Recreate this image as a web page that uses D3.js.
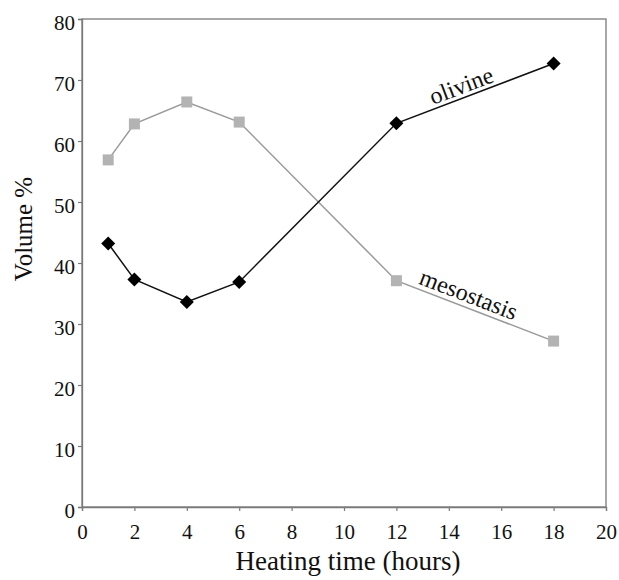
<!DOCTYPE html>
<html>
<head>
<meta charset="utf-8">
<script src="https://cdn.jsdelivr.net/npm/d3@7"></script>
<style>
  body { margin: 0; background: #fff; }
  svg { display: block; }
  text { font-family: "Liberation Serif", "Times New Roman", serif; }
</style>
</head>
<body>
<svg id="chart" width="619" height="580"></svg>
<script>
const hours = [1, 2, 4, 6, 12, 18];
const olivine = [43.2, 37.3, 33.6, 36.9, 62.9, 72.7];
const mesostasis = [56.9, 62.8, 66.4, 63.1, 37.1, 27.2];
const xTicks = [0, 2, 4, 6, 8, 10, 12, 14, 16, 18, 20];
const yTicks = [0, 10, 20, 30, 40, 50, 60, 70, 80];

const svg = d3.select("#chart");
const m = { left: 82, top: 19, right: 13, bottom: 73 };
const W = 619 - m.left - m.right, H = 580 - m.top - m.bottom;
const g = svg.append("g").attr("transform", `translate(${m.left},${m.top})`);

const x = d3.scaleLinear().domain([0, 20]).range([0, W]);
const y = d3.scaleLinear().domain([0, 80]).range([H, 0]);

const axisColor = "#7a7a7a";

// frame
g.append("rect").attr("x", 0).attr("y", 0).attr("width", W).attr("height", H)
  .attr("fill", "none").attr("stroke", axisColor).attr("stroke-width", 1.3);

const xa = g.append("g").attr("transform", `translate(0,${H})`)
  .call(d3.axisBottom(x).tickValues(xTicks).tickSize(4).tickPadding(13).tickFormat(d3.format("d")));
const ya = g.append("g")
  .call(d3.axisLeft(y).tickValues(yTicks).tickSize(4).tickPadding(3).tickFormat(d3.format("d")));
[xa, ya].forEach(a => {
  a.attr("font-family", null);
  a.select(".domain").attr("stroke", axisColor).attr("stroke-width", 1.3);
  a.selectAll(".tick line").attr("stroke", axisColor).attr("stroke-width", 1.2);
  a.selectAll(".tick text").attr("fill", "#111").style("font-size", "21px")
    .style("font-family", "'Liberation Serif', 'Times New Roman', serif");
});
ya.selectAll(".tick text").attr("dy", "0.5em");

// axis titles
svg.append("text").attr("x", m.left + W / 2 + 4).attr("y", 570)
  .attr("text-anchor", "middle").style("font-size", "27px").attr("fill", "#111")
  .text("Heating time (hours)");
svg.append("text").attr("transform", `translate(32,229) rotate(-90)`)
  .attr("text-anchor", "middle").style("font-size", "25px").attr("fill", "#111")
  .text("Volume %");

const line = d3.line().x(d => x(d[0])).y(d => y(d[1]));
const olData = hours.map((h, i) => [h, olivine[i]]);
const meData = hours.map((h, i) => [h, mesostasis[i]]);

g.append("path").datum(meData).attr("d", line).attr("fill", "none")
  .attr("stroke", "#9a9a9a").attr("stroke-width", 1.5);
g.append("path").datum(olData).attr("d", line).attr("fill", "none")
  .attr("stroke", "#111").attr("stroke-width", 1.5);

const sq = 11;
g.selectAll("rect.me").data(meData).enter().append("rect").attr("class", "me")
  .attr("x", d => x(d[0]) - sq / 2).attr("y", d => y(d[1]) - sq / 2)
  .attr("width", sq).attr("height", sq).attr("fill", "#b3b3b3");

const dm = 7;
g.selectAll("path.ol").data(olData).enter().append("path").attr("class", "ol")
  .attr("d", d => `M${x(d[0])},${y(d[1]) - dm}L${x(d[0]) + dm},${y(d[1])}L${x(d[0])},${y(d[1]) + dm}L${x(d[0]) - dm},${y(d[1])}Z`)
  .attr("fill", "#000");

// series labels along last segments
function segLabel(data, text, t, off) {
  const a = data[data.length - 2], b = data[data.length - 1];
  const x0 = x(a[0]), y0 = y(a[1]), x1 = x(b[0]), y1 = y(b[1]);
  const ang = Math.atan2(y1 - y0, x1 - x0) * 180 / Math.PI;
  const px = x0 + (x1 - x0) * t, py = y0 + (y1 - y0) * t;
  g.append("text").attr("transform", `translate(${px},${py}) rotate(${ang})`)
    .attr("text-anchor", "middle").attr("y", -off).style("font-size", "24px").attr("fill", "#111")
    .text(text);
}
segLabel(olData, "olivine", 0.44, 4);
segLabel(meData, "mesostasis", 0.43, 5);
</script>
</body>
</html>
